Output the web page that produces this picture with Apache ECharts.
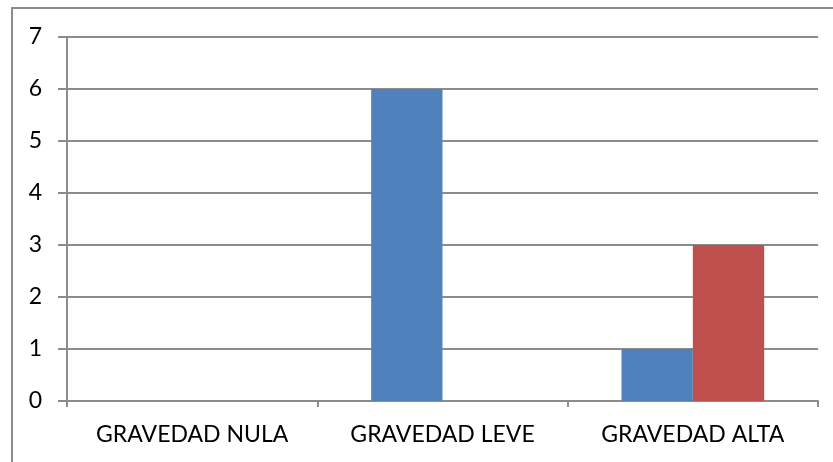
<!DOCTYPE html>
<html>
<head>
<meta charset="utf-8">
<script src="https://cdn.jsdelivr.net/npm/echarts@6/dist/echarts.min.js"></script>
<style>
  html, body { margin: 0; padding: 0; background: #fff; }
  #frame { position: absolute; left: 11px; top: 7px; width: 840px; height: 470px;
           border-left: 2px solid #8c8c8c; border-top: 2px solid #8c8c8c; }
  #container { position: absolute; left: 0; top: 0; width: 833px; height: 462px; }
</style>
</head>
<body>
<div id="frame"></div>
<div id="container"></div>
<script>
// datos
var categorias = ['GRAVEDAD NULA', 'GRAVEDAD LEVE', 'GRAVEDAD ALTA'];
var serie1 = [0, 6, 1];
var serie2 = [0, 0, 3];

var dom = document.getElementById('container');
var myChart = echarts.init(dom, null, { renderer: 'canvas' });

var lineColor = '#8c8c8c';
var option = {
  animation: false,
  grid: { left: 67, right: 15, top: 37, bottom: 61 },
  xAxis: {
    type: 'category',
    data: categorias,
    axisLine: { lineStyle: { color: lineColor, width: 2 } },
    axisTick: { show: true, length: 6, lineStyle: { color: lineColor, width: 2 } },
    axisLabel: { color: '#000', fontFamily: 'Lato', fontSize: 23, margin: 22 }
  },
  yAxis: {
    type: 'value',
    min: 0,
    max: 7,
    interval: 1,
    axisLine: { show: true, lineStyle: { color: lineColor, width: 2 } },
    axisTick: { show: true, length: 9, lineStyle: { color: lineColor, width: 2 } },
    splitLine: { lineStyle: { color: lineColor, width: 2 } },
    axisLabel: { color: '#000', fontFamily: 'Lato', fontSize: 23, margin: 25 }
  },
  series: [
    {
      type: 'bar',
      data: serie1,
      barGap: '0%',
      barCategoryGap: '43%',
      itemStyle: { color: '#4f81bd' }
    },
    {
      type: 'bar',
      data: serie2,
      itemStyle: { color: '#c0504d' }
    }
  ]
};
myChart.setOption(option);
window.addEventListener('resize', function () { myChart.resize(); });
</script>
</body>
</html>
